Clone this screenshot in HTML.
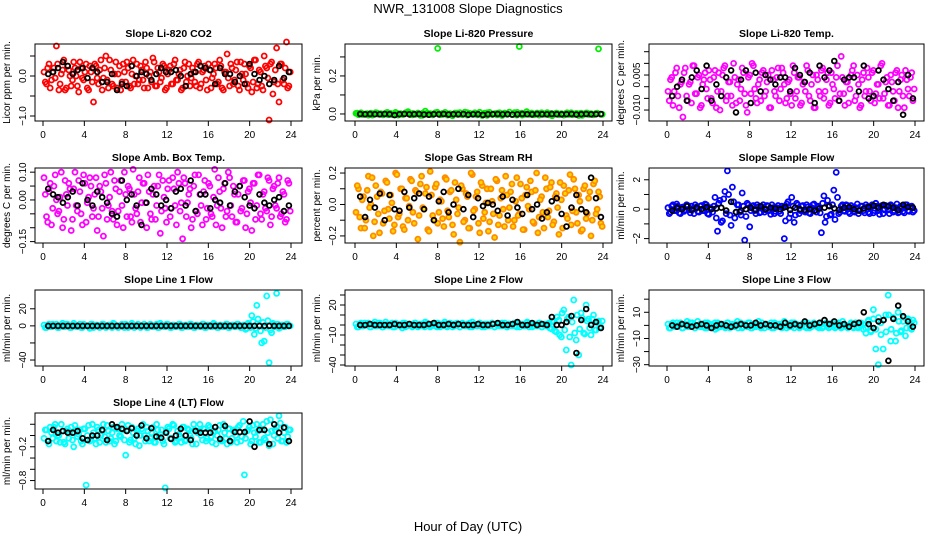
<!DOCTYPE html>
<html><head><meta charset="utf-8"><style>
html,body{margin:0;padding:0;background:#fff;}
svg{display:block;font-family:"Liberation Sans",sans-serif;}
.tt{font-weight:bold;font-size:10.5px;}
.tk{font-size:10px;}
</style></head><body>
<svg id="chart" width="936" height="540" viewBox="0 0 936 540">
<rect width="936" height="540" fill="#fff"/>
<text x="468" y="13" text-anchor="middle" font-size="13">NWR_131008  Slope Diagnostics</text>
<text x="468" y="531" text-anchor="middle" font-size="13">Hour of Day (UTC)</text>
</svg>
<script>
const xTicks=[0,4,8,12,16,20,24];
const titles=["Slope Li-820 CO2","Slope Li-820 Pressure","Slope Li-820 Temp.","Slope Amb. Box Temp.","Slope Gas Stream RH","Slope Sample Flow","Slope Line 1 Flow","Slope Line 2 Flow","Slope Line 3 Flow","Slope Line 4 (LT) Flow"];
const yTitles=["Licor ppm per min.","kPa per min.","degrees C per min.","degrees C per min.","percent per min.","ml/min per min.","ml/min per min.","ml/min per min.","ml/min per min.","ml/min per min."];
const yDomains=[[-1.125,0.8],[-0.037,0.368],[-0.0147,0.0183],[-0.155,0.115],[-0.245,0.232],[-2.3,2.8],[-47,42],[-41,35],[-31,27],[-0.95,0.40]];
const yTicks=[[-1,-0.5,0,0.5],[0,0.1,0.2,0.3],[-0.01,-0.005,0,0.005,0.01,0.015],[-0.15,-0.1,-0.05,0,0.05,0.1],[-0.2,-0.1,0,0.1,0.2],[-2,-1,0,1,2],[-40,-20,0,20],[-40,-30,-20,-10,0,10,20,30],[-30,-20,-10,0,10,20],[-0.8,-0.6,-0.4,-0.2,0,0.2]];
const yTickLabels=[["−1.0","","0.0",""],["0.0","","0.2",""],["−0.010","","","0.005","",""],["−0.15","","","0.00","","0.10"],["−0.2","","0.0","","0.2"],["−2","","0","","2"],["−40","","0","20"],["−40","","","−10","","","20",""],["−30","","−10","","10",""],["−0.8","","","−0.2","",""]];
const colors=["#ff0000","#00ee00","#ff00ff","#ff00ff","#ff8c00","#0000ff","#00ffff","#00ffff","#00ffff","#00ffff"];

const co2Color=[.1,-.2,.3,-.1,.2,.75,-.35,.05,.4,-.3,.15,-.25,.35,0,-.4,.2,-.1,.3,-.35,.1,-.65,.25,-.2,.4,-.05,.5,-.3,.15,-.25,.35,.05,-.35,.3,-.15,.2,-.3,.4,0,-.2,.25,-.1,.35,-.3,.1,.45,-.25,.2,-.15,.3,-.35,.05,.25,-.2,.4,-.1,.15,-.3,.35,0,-.25,.2,-.15,.3,-.3,.1,.25,-.35,.15,-.05,.3,-.2,.4,-.3,.1,.55,-.25,.2,-.1,.35,-.35,.05,.3,-.2,.25,-.4,.4,-.3,.15,-.25,.5,.2,-1.1,.35,-.15,.7,-.65,.3,-.2,.85,-.25];
const co2Color2=[-.15,.2,-.3,.1,-.05,.3,-.2,.15,-.35,.25,0,-.1,.2,-.25,.35,-.05,.1,-.3,.25,-.15,.3,-.05,.15,-.35,.2,-.1,.4,-.2,.05,-.3,.25,-.15,.1,.35,-.25,.05,-.2,.3,-.1,.15,-.3,.2,0,-.15,.35,-.25,.1,-.05,.25,-.3,.15,-.2,.3,-.1,.05,-.35,.2,-.15,.3,-.05,.1,-.25,.35,-.2,.15,-.1,.3,-.3,.05,.2,-.15,.25,-.35,.1,-.05,.3,-.2,.15,-.25,.35,-.1,.05,-.3,.2,-.15,.4,-.2,.1,-.35,.25,-.05,.3,-.45,.15,-.2,.3,-.1,.2,-.3,.1];
const co2Black=[.05,.1,.2,.35,.25,.05,.15,.2,-.05,.2,.1,-.15,-.15,.05,-.35,-.2,-.25,.25,0,.1,.05,-.1,.05,.2,.1,.1,.15,0,-.25,.05,.1,.25,.2,.15,-.2,.2,.05,.05,-.15,0,-.2,.3,.05,-.1,0,-.2,-.1,.25,-.05,.1];
const presColor=[.003,-.004,.006,-.002,.001,-.006,.004,-.003,.007,-.001,.002,-.005,.005,-.004,.003,-.002,.008,-.006,.002,-.003,.006,.012,-.004,.003,-.002,.005,-.007,.004,.015,-.003,.002,-.005,.006,.345,-.004,.003,.008,-.006,.002,-.009,.005,-.003,.007,-.004,.01,-.006,.003,-.002,.006,-.005,.009,-.004,.004,-.007,.008,-.003,.002,-.005,.006,-.008,.005,-.002,.01,-.004,.007,-.006,.355,.004,-.003,.012,-.002,.005,-.004,.003,-.006,.006,-.002,.004,-.005,.003,-.001,.005,-.004,.002,-.006,.004,-.003,.006,-.002,.003,-.008,.004,-.001,.005,-.003,.002,-.004,.003,.342,-.002];
const presColor2=[.004,-.003,.002,-.006,.005,-.001,.008,-.004,.003,-.002,.006,-.005,.001,-.007,.004,-.002,.009,-.003,.002,-.006,.005,-.004,.007,-.001,.003,-.008,.006,-.002,.004,-.005,.002,-.003,.008,-.006,.001,-.004,.005,-.002,.007,-.009,.003,-.001,.006,-.004,.002,-.007,.005,-.003,.004,-.002];
const presBlack=[0,-.002,0,-.001,-.002,0,-.001,-.006,-.001,0,-.002,-.001,0,-.003,-.004,-.001,-.002,0,-.003,-.001,-.002,0,-.004,-.002,-.001,-.005,-.002,-.001,0,-.002,-.001,-.003,-.002,0,-.001,-.002,0,-.001,-.002,0,-.001,-.002,-.001,0,-.003,-.001,0,-.002,-.001,0];
const tempColor=[-.002,.003,-.008,.006,-.004,.001,-.013,.008,-.006,.002,.009,-.003,.004,-.009,.001,.006,-.005,.003,-.007,.007,-.002,-.01,.005,.009,-.004,.002,-.008,.004,.001,-.006,.008,-.003,-.011,.005,.01,-.001,-.007,.003,.006,-.004,.002,-.009,.007,-.002,.004,-.006,.008,.001,-.005,.003,-.008,.006,-.002,.004,-.007,.002,.009,-.004,.001,-.009,.005,-.002,.007,-.005,.003,-.008,.006,-.001,.004,-.006,.013,-.003,.002,-.007,.005,.009,-.004,.001,-.008,.006,-.002,.004,-.006,.007,-.003,.001,.009,-.005,.002,-.008,.005,-.002,.006,-.009,.003,-.004,.007,-.001,.004,-.006];
const tempColor2=[-.006,.004,-.002,.008,-.009,.002,.006,-.004,.001,-.007,.009,-.003,.005,-.008,.003,-.001,.007,-.005,.004,-.009,.006,-.002,.008,-.006,.002,-.004,.01,-.007,.003,-.001,.006,-.008,.004,-.003,.009,-.005,.001,-.006,.007,-.002,.005,-.009,.003,-.004,.008,-.001,.006,-.007,.002,-.003,.009,-.005,.004,-.008,.001,-.002,.007,-.006,.005,-.009,.003,-.004,.008,-.002,.006,-.007,.001,-.005,.009,-.003,.004,-.008,.002,-.001,.007,-.006,.005,-.009,.003,-.004,.008,-.002,.006,-.007,.001,-.005,.01,-.003,.004,-.008,.002,-.006,.007,-.002,.005,-.009,.003,-.004,.006,-.001];
const tempBlack=[-.004,0,.003,-.006,.004,.007,-.001,.009,-.006,.001,-.004,.004,.007,-.011,.003,.007,-.007,.006,-.002,.005,.003,.001,.004,.004,-.002,.008,.005,.002,.006,-.007,.009,.004,.007,.011,-.006,.003,.004,.004,-.002,.009,-.005,-.004,.007,.003,-.001,-.006,.002,-.012,.005,-.005];
const ambColor=[.08,-.06,.03,-.09,.05,0,-.04,.1,-.07,.02,.06,-.11,.04,-.02,.07,-.05,.09,-.08,.01,.05,-.03,.08,-.06,.03,-.13,.06,-.02,.1,-.07,.04,-.04,.07,-.1,.02,.05,-.06,.11,-.03,.03,-.08,.06,-.01,.09,-.05,.02,-.07,.05,-.12,.07,-.03,.04,-.06,.08,-.02,.1,-.04,-.14,.06,-.01,.04,-.07,.09,-.05,.02,-.09,.07,-.03,.05,-.06,.11,-.02,.03,-.1,.06,-.04,.08,-.06,.02,-.08,.05,-.03,.07,-.05,.04,-.11,.06,-.02,.09,-.07,.03,-.04,.07,-.06,.05,-.03,.08,-.05,.02,-.07,.06];
const ambColor2=[.02,-.08,.06,-.03,.09,-.05,.01,-.1,.07,-.02,.04,-.07,.1,-.04,.03,-.09,.06,-.01,.08,-.06,.02,-.11,.05,-.03,.09,-.07,.01,-.04,.07,-.09,.03,-.02,.1,-.06,.04,-.08,.02,-.05,.08,-.01,.06,-.1,.03,-.07,.05,-.02,.09,-.04,.01,-.08,.07,-.03,.04,-.09,.06,-.01,.08,-.06,.02,-.1,.05,-.04,.09,-.02,.03,-.07,.06,-.05,.01,-.09,.08,-.03,.04,-.06,.1,-.02,.05,-.08,.02,-.04,.07,-.1,.03,-.01,.06,-.07,.09,-.05,.02,-.03,.08,-.09,.04,-.02,.06,-.06,.03,-.08,.07,-.04];
const ambBlack=[.04,.02,.01,-.01,.01,.03,-.02,.06,0,-.02,.03,.01,-.01,-.05,-.06,.07,0,.02,-.02,-.09,-.01,.04,.02,-.02,0,-.03,.03,.04,-.02,.07,-.04,.02,.02,-.03,0,-.01,.06,-.02,.03,.05,.01,-.02,-.03,.02,-.01,-.02,0,.01,-.04,-.02];
const rhColor=[-.05,.1,-.15,.05,-.1,.18,0,-.2,.12,-.06,.08,-.12,.15,-.03,.06,-.17,.2,-.08,.1,-.14,.04,-.1,.16,-.05,.09,-.22,.13,-.02,.07,-.16,.21,-.07,.11,-.12,.03,-.09,.17,-.04,.08,-.13,.14,-.06,-.24,.1,-.1,.05,-.15,.19,-.03,.08,-.18,.12,-.05,.1,-.11,.02,-.21,.15,-.07,.09,-.14,.06,-.02,.13,-.1,.17,-.06,.04,-.16,.11,-.03,.08,-.12,.2,-.08,.05,-.15,.1,-.04,.14,-.11,.07,-.19,.03,.12,-.07,.09,-.13,.16,-.05,.06,-.17,.1,-.09,.04,-.2,.13,-.06,.08,-.12];
const rhColor2=[.12,-.08,.03,-.15,.09,-.02,.17,-.11,.05,-.18,.07,-.04,.14,-.09,.01,-.13,.19,-.06,.1,-.16,.04,-.01,.15,-.12,.08,-.07,.18,-.03,.11,-.17,.06,-.1,.13,-.05,.02,-.14,.16,-.08,.09,-.19,.03,-.02,.12,-.11,.07,-.15,.2,-.04,.05,-.12,.14,-.09,.01,-.17,.1,-.06,.16,-.13,.04,-.03,.18,-.1,.08,-.14,.02,-.07,.13,-.16,.06,-.01,.15,-.11,.09,-.18,.03,-.05,.17,-.08,.11,-.13,.05,-.02,.14,-.15,.07,-.09,.19,-.04,.1,-.12,.02,-.16,.12,-.06,.08,-.1,.15,-.03,.05,-.14];
const rhBlack=[.05,-.08,.03,-.02,.07,-.1,.06,-.03,-.04,.08,-.02,.04,.07,-.03,.05,-.1,.02,.08,-.05,0,.1,-.03,.06,-.08,.04,-.01,.01,0,-.04,.05,-.07,.03,-.02,-.06,.06,-.03,0,-.09,-.05,.02,.04,-.06,-.14,-.02,.06,-.03,-.05,.17,.04,-.08];
const sampColor=[.1,-.2,.3,-.1,.2,-.3,.15,-.05,.25,-.25,.05,.3,-.15,.2,-.1,.35,-.3,.1,-.2,.8,-1.5,.6,-.8,1.2,2.6,-.4,1.5,-.6,.3,-.2,1.1,-2.1,.4,-1.2,.2,-.1,.3,-.25,.15,-.2,.25,-.1,.3,-.3,.1,-.15,.2,-2.0,.35,-.6,.8,-.9,.4,-.3,.2,-.15,.3,-.25,.1,.35,-.2,.15,-1.6,.9,-.5,.25,-.35,1.3,2.5,-.3,.2,-.1,.3,-.2,.25,-.15,.1,-.3,.2,-.1,.3,-.2,.15,-.25,.4,-.1,.2,-.3,.25,-.05,.3,-.2,.1,-.25,.2,-.15,.3,-.1,.15,-.2];
const sampColor2=[-.3,.2,-.1,.35,-.25,.1,-.15,.3,-.05,.2,-.3,.15,-.2,.25,-.1,.3,-.35,.05,.2,-.6,.4,-.9,.7,-.3,1.0,-1.1,.5,-.2,.3,-.4,.2,-.5,.3,-.1,.25,-.3,.15,-.2,.3,-.05,.2,-.35,.1,-.15,.25,-.3,.1,-.8,.5,-.3,.2,-.4,.3,-.1,.25,-.2,.15,-.3,.3,-.05,.2,-.25,.4,-.9,.6,-.4,.3,-.7,.8,-.2,.3,-.15,.25,-.3,.1,-.2,.35,-.1,.2,-.25,.15,-.3,.3,-.1,.2,-.35,.25,-.05,.15,-.3,.2,-.1,.35,-.2,.1,-.25,.3,-.15,.2,-.1];
const sampBlack=[-.1,.1,0,.2,-.05,.1,0,.15,0,.05,.1,-.1,.5,-.2,-.1,0,.1,-.05,.2,0,.1,.05,0,.15,-.05,.1,0,-.05,0,-.1,.05,.1,.2,.05,-.05,.1,.15,0,-.1,.05,.15,.25,.1,.3,.2,.1,-.05,.3,.15,.1];
const l1Color=[1,-2,2,-1,0,2,-2,1,-1,2,0,-2,3,-1,1,-2,2,0,-1,2,-2,1,0,-1,2,-2,1,-1,3,0,-2,1,-1,2,-2,0,1,-1,2,-2,1,0,-2,2,-1,1,-2,3,0,-1,2,-2,1,-1,0,2,-2,1,-1,2,0,-2,1,-1,2,-2,1,0,-1,2,-2,1,-1,0,2,-2,1,-1,2,0,-2,1,-3,2,12,-10,24,1,-20,-18,35,-43,-8,2,38,-3,1,-1,2,0];
const l1Color2=[-2,1,-1,2,0,-2,1,3,-1,2,-2,0,1,-1,2,-2,1,0,-3,2,-1,1,-2,2,0,-1,1,-2,2,-1,0,2,-2,1,-1,3,-2,0,1,-1,2,-2,1,0,-1,2,-2,1,-1,2,0,-2,1,-1,2,-2,0,1,-1,2,-2,1,0,-1,2,-2,1,-1,3,0,-2,1,-1,2,-2,0,1,-1,2,-2,1,-4,3,-2,5,-3,8,-6,4,-2,6,-5,3,-1,2,-2,1,-1,2,0];
const l1Black=[0,0,0,0,0,0,0,0,0,0,0,0,0,0,0,0,0,0,0,0,0,0,0,0,0,0,0,0,0,0,0,0,0,0,0,0,0,0,0,0,0,0,0,0,0,0,0,0,0,0];
const l2Color=[1,-2,2,-1,0,2,-2,1,-1,2,0,-2,3,-1,1,-2,2,0,-1,2,-2,1,0,-1,2,-2,1,-1,3,0,-2,1,-1,2,-2,0,1,-1,2,-2,1,0,-2,2,-1,1,-2,3,0,-1,2,-2,1,-1,0,2,-2,1,-1,2,0,-2,1,-1,2,-2,1,0,-1,2,-2,1,-1,0,2,-2,1,-1,2,-4,3,-7,5,-12,15,-25,8,-40,25,-15,-30,12,-8,20,6,-10,10,-5,4,-2];
const l2Color2=[-2,1,-1,2,0,-2,1,3,-1,2,-2,0,1,-1,2,-2,1,0,-3,2,-1,1,-2,2,0,-1,1,-2,2,-1,0,2,-2,1,-1,3,-2,0,1,-1,2,-2,1,0,-1,2,-2,1,-1,2,0,-2,1,-1,2,-2,0,1,-1,2,-2,1,0,-1,2,-2,1,-1,3,0,-2,1,-1,2,-2,0,1,-3,4,-6,8,-10,12,-5,6,-12,3,-8,10,-4,7,-9,4,-3,6,-5,3,-2,4];
const l2Black=[0,0,1,0,0,0,0,1,0,0,1,0,0,0,1,2,0,0,1,0,1,0,0,0,1,0,0,1,2,0,0,1,3,0,0,2,0,1,0,8,0,0,3,9,-28,5,16,0,3,-3];
const l3Color=[1,-2,2,-1,0,2,-2,1,-1,2,0,-2,3,-1,1,-2,2,0,-1,2,-2,1,0,-1,2,-2,1,-1,3,0,-2,1,-1,2,-2,0,1,-1,2,-2,1,0,-2,2,-1,1,-2,3,0,-1,2,-2,1,-1,0,2,-2,1,-1,2,0,-2,1,-1,2,-2,1,0,-1,2,-2,1,-1,0,2,-2,1,-1,2,-3,-6,4,-5,12,-18,-30,2,-18,8,23,-12,6,-12,10,-5,3,-8,5,-2,4];
const l3Color2=[-2,1,-1,2,0,-2,1,3,-1,2,-2,0,1,-1,2,-2,1,0,-3,2,-1,1,-2,2,0,-1,1,-2,2,-1,0,2,-2,1,-1,3,-2,0,1,-1,2,-2,1,0,-1,2,-2,1,-1,2,0,-2,1,-1,2,-2,0,1,-1,2,-2,1,0,-1,2,-2,1,-1,3,0,-2,1,-1,2,-2,0,1,-2,3,-4,5,-3,6,-7,4,-5,8,-3,5,-6,3,-4,6,-2,4,-3,2];
const l3Black=[0,-1,1,0,-1,0,1,0,-2,0,1,0,-1,0,1,0,0,2,0,1,0,0,-1,2,0,1,0,3,0,1,2,4,1,3,0,1,-1,1,2,10,1,-2,3,4,-27,5,15,7,3,-1];
const l4Color=[-.05,.1,-.15,.05,.15,-.1,0,.2,-.12,.08,-.05,.15,-.2,.1,.02,-.1,.12,-.88,.18,-.08,.05,-.15,.1,0,.2,-.12,.08,-.05,.15,-.1,.12,-.02,.1,-.35,.18,-.08,.05,-.15,.12,0,.2,-.1,.08,-.05,.15,-.12,.1,.02,-.1,-.93,.15,-.05,.2,-.12,.08,-.02,.15,-.1,.12,0,-.15,.1,.05,.2,-.08,.12,-.05,.15,-.12,.08,0,.18,-.1,.05,-.15,.12,-.05,.1,-.12,.18,-.02,-.7,.08,.15,-.1,.05,.2,-.12,.1,-.05,.25,-.18,.08,0,.15,.35,-.1,.05,-.12,.1];
const l4Color2=[.1,-.1,.15,-.05,.2,0,-.12,.08,-.15,.12,.05,-.08,.18,-.02,.1,-.15,.12,0,-.1,.2,-.05,.15,-.12,.08,-.02,.18,-.1,.05,-.15,.12,0,.2,-.08,.1,-.12,.15,-.05,.08,-.18,.12,0,.15,-.1,.05,-.12,.2,-.02,.1,-.15,.08,.12,-.05,.18,-.1,.02,-.12,.15,-.08,.1,-.05,.2,-.15,.08,0,.12,-.1,.18,-.02,.05,-.15,.1,-.08,.2,-.05,.12,-.12,.08,0,.15,-.1,.25,-.05,.1,-.15,.18,-.02,.08,-.12,.2,-.08,.05,.28,-.15,.1,-.05,.22,-.1,.15,-.02,.1];
const l4Black=[-.1,.1,.05,.08,.05,.05,.08,-.05,-.08,0,0,.1,-.08,.2,.15,.12,.08,.13,0,.18,-.05,.13,-.02,-.04,.05,-.06,0,.12,0,-.08,.08,.05,.05,.05,.15,-.06,.17,-.1,.06,.06,.06,.25,-.2,.1,.1,-.15,.2,.05,.14,-.1];

const colorSeries=[co2Color,presColor,tempColor,ambColor,rhColor,sampColor,l1Color,l2Color,l3Color,l4Color];
const colorSeries2=[co2Color2,presColor2,tempColor2,ambColor2,rhColor2,sampColor2,l1Color2,l2Color2,l3Color2,l4Color2];
const blackSeries=[co2Black,presBlack,tempBlack,ambBlack,rhBlack,sampBlack,l1Black,l2Black,l3Black,l4Black];

const NS="http://www.w3.org/2000/svg";
const svg=document.getElementById('chart');
const cols=[{l:35,r:302,x0:43,x24:291},{l:345,r:612,x0:355,x24:603},{l:649,r:924,x0:667,x24:915}];
const rows=[{t:44,b:121},{t:168,b:243},{t:290,b:366},{t:413,b:489}];
const names=["co2","pressure","licor-temp","amb-box-temp","gas-stream-rh","sample-flow","line1-flow","line2-flow","line3-flow","line4-flow"];
function mk(tag,attrs,parent){const e=document.createElementNS(NS,tag);for(const k in attrs)e.setAttribute(k,attrs[k]);parent.appendChild(e);return e;}

for(let p=0;p<10;p++){
  const c=cols[p%3], r=rows[Math.floor(p/3)];
  const g=mk('g',{},svg);
  
  
  const xs=h=>c.x0+(h/24)*(c.x24-c.x0);
  const [lo,hi]=yDomains[p];
  const ys=v=>r.b-(v-lo)/(hi-lo)*(r.b-r.t);
  const ptsC=mk('g',{fill:p===4?'#ffd700':'none',stroke:colors[p],'stroke-width':1.8},g);
  
  
  [[colorSeries[p],0.1],[colorSeries2[p],0.22]].forEach(([cs,off])=>{
    cs.forEach((v,i)=>{const h=off+i*23.7/(cs.length-1);
      const pt=mk('circle',{cx:xs(h).toFixed(1),cy:ys(v).toFixed(1),r:2.5},ptsC);
      
    });
  });
  const bs=blackSeries[p];
  const ptsK=mk('g',{fill:'none',stroke:'#000','stroke-width':1.8},g);
  
  
  bs.forEach((v,i)=>{const h=0.5+i*23.3/(bs.length-1);
    const pt=mk('circle',{cx:xs(h).toFixed(1),cy:ys(v).toFixed(1),r:2.4},ptsK);
    
  });
  const box=mk('rect',{x:c.l,y:r.t,width:c.r-c.l,height:r.b-r.t,fill:'none',stroke:'#000','stroke-width':1},g);
  
  const t=mk('text',{x:(c.l+c.r)/2,y:r.t-7,'text-anchor':'middle',class:'tt'},g);
  t.textContent=titles[p];
  
  
  xTicks.forEach(h=>{
    mk('line',{x1:xs(h),x2:xs(h),y1:r.b,y2:r.b+5,stroke:'#000'},g);
    const tl=mk('text',{x:xs(h),y:r.b+17,'text-anchor':'middle',class:'tk'},g);
    tl.textContent=h;
    
  });
  yTicks[p].forEach((v,i)=>{
    const y=ys(v);
    mk('line',{x1:c.l-5,x2:c.l,y1:y,y2:y,stroke:'#000'},g);
    const lab=yTickLabels[p][i];
    if(lab){const tl=mk('text',{x:c.l-9,y:y,'text-anchor':'middle',class:'tk',transform:`rotate(-90 ${c.l-9} ${y})`},g);
      tl.textContent=lab;
      
    }
  });
  const ym=(r.t+r.b)/2, yx=c.l-25;
  const yt=mk('text',{x:yx,y:ym,'text-anchor':'middle',class:'tk',transform:`rotate(-90 ${yx} ${ym})`},g);
  yt.textContent=yTitles[p];
  
  
}
</script>
</body></html>
